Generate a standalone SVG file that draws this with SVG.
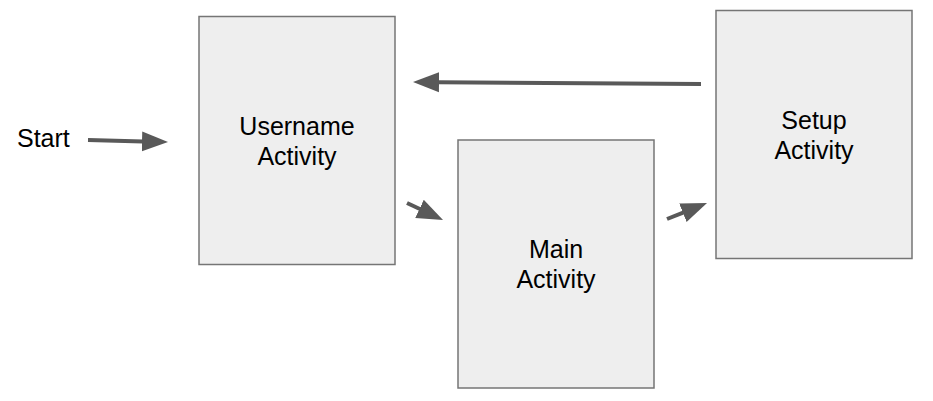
<svg xmlns="http://www.w3.org/2000/svg" width="933" height="401" viewBox="0 0 933 401">
<style>
.box{fill:#eeeeee;stroke:#757575;stroke-width:1.5}
.t{font-family:"Liberation Sans",Arial,sans-serif;font-size:25px;fill:#000;text-anchor:middle}
.c{stroke:#595959;stroke-width:4;fill:none;marker-end:url(#ah)}
</style>
<defs>
<marker id="ah" markerUnits="userSpaceOnUse" markerWidth="28" markerHeight="22" refX="1" refY="10" orient="auto" viewBox="0 0 28 20">
<path d="M0,0 L26,10 L0,20 Z" fill="#595959"/>
</marker>
</defs>
<g id="start"><text class="t" x="17" y="147" style="text-anchor:start">Start</text></g>
<g id="username"><rect class="box" x="199" y="16.5" width="196" height="248"/><text class="t" x="297" y="135">Username</text><text class="t" x="297" y="165">Activity</text></g>
<g id="main"><rect class="box" x="458" y="140" width="196" height="248"/><text class="t" x="556" y="258">Main</text><text class="t" x="556" y="288">Activity</text></g>
<g id="setup"><rect class="box" x="716" y="10.5" width="196" height="248"/><text class="t" x="814" y="129">Setup</text><text class="t" x="814" y="159">Activity</text></g>
<g id="connectors">
<line class="c" x1="88" y1="140" x2="143" y2="141.4"/>
<line class="c" x1="701" y1="84" x2="438" y2="82.2"/>
<line class="c" x1="407" y1="203" x2="420.4" y2="209.3"/>
<line class="c" x1="667" y1="219" x2="683.8" y2="212.3"/>
</g>
</svg>
